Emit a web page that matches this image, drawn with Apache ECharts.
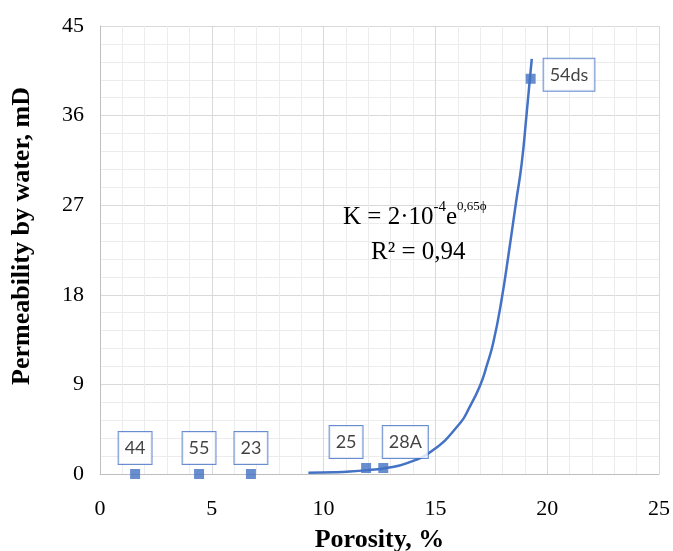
<!DOCTYPE html>
<html><head><meta charset="utf-8">
<script src="https://cdn.jsdelivr.net/npm/echarts@6/dist/echarts.min.js"></script>
<style>html,body{margin:0;padding:0;background:#fff}#c{width:673px;height:551px}</style>
</head><body><div id="c"></div>
<script>
var sampleNames = ['44', '55', '23', '25', '28A', '54ds'];
var porosity = [1.57, 4.43, 6.75, 11.9, 12.67, 19.26];
var permeability = [0.0, 0.0, 0.0, 0.6, 0.6, 39.7];
var trendX = [9.32, 10.5, 11.18, 12.0, 12.8, 13.7, 14.9, 16.1, 16.5, 17.0, 17.3, 17.59, 17.96, 18.3, 18.6, 18.86, 19.08, 19.31];
var trendY = [0.13, 0.18, 0.25, 0.4, 0.6, 1.07, 2.4, 5.1, 6.6, 8.9, 10.9, 13.2, 17.5, 22.5, 27.2, 31.2, 36.2, 41.7];
var xTicks = [0, 5, 10, 15, 20, 25];
var yTicks = [0, 9, 18, 27, 36, 45];

var blue = '#4472c4';
var labelOffsets = {'25': [-20, 0], '28A': [22, 0]};
var pts = sampleNames.map(function (n, i) {
  var d = {name: n, value: [porosity[i], permeability[i]]};
  if (n === '54ds') d.label = {position: 'right', distance: 8, offset: [0, -4]};
  if (labelOffsets[n]) d.label = {offset: labelOffsets[n]};
  return d;
});
var trend = trendX.map(function (x, i) { return [x, trendY[i]]; });

var chart = echarts.init(document.getElementById('c'));
chart.setOption({
  animation: false,
  grid: {left: 100, right: 14, top: 26, bottom: 77, outerBoundsMode: 'none', containLabel: false},
  xAxis: {
    type: 'value', min: xTicks[0], max: xTicks[xTicks.length - 1], interval: 5,
    name: 'Porosity, %', nameLocation: 'middle', nameGap: 53,
    nameTextStyle: {fontFamily: 'Liberation Serif', fontWeight: 'bold', fontSize: 26, color: '#000'},
    axisLine: {show: true, lineStyle: {color: '#bfbfbf', width: 1}},
    axisTick: {show: false},
    axisLabel: {fontFamily: 'Liberation Serif', fontSize: 22, color: '#000', margin: 24},
    splitLine: {show: true, lineStyle: {color: '#d9d9d9', width: 1}},
    minorTick: {show: false, splitNumber: 5},
    minorSplitLine: {show: true, lineStyle: {color: '#ececec', width: 1}}
  },
  yAxis: {
    type: 'value', min: yTicks[0], max: yTicks[yTicks.length - 1], interval: 9,
    axisLine: {show: true, lineStyle: {color: '#bfbfbf', width: 1}},
    axisTick: {show: false},
    axisLabel: {fontFamily: 'Liberation Serif', fontSize: 22, color: '#000', margin: 16},
    splitLine: {show: true, lineStyle: {color: '#d9d9d9', width: 1}},
    minorTick: {show: false, splitNumber: 5},
    minorSplitLine: {show: true, lineStyle: {color: '#ececec', width: 1}}
  },
  series: [
    {
      type: 'line', data: trend, smooth: 0.5, showSymbol: false, symbol: 'none',
      lineStyle: {color: blue, width: 2.5}, z: 2
    },
    {
      type: 'scatter', data: pts, symbol: 'rect', symbolSize: 10,
      itemStyle: {color: blue}, z: 3,
      label: {
        show: true, position: 'top', distance: 5, formatter: '{b}',
        fontFamily: 'Lato', fontSize: 18, lineHeight: 18, color: '#111',
        backgroundColor: '#fff', borderColor: blue, borderWidth: 1,
        padding: [7, 6, 7, 6]
      }
    }
  ],
  graphic: [
    {
      type: 'text', x: 22, y: 236, rotation: Math.PI / 2, z: 10,
      style: {
        text: 'Permeability by water, mD', align: 'center', verticalAlign: 'middle',
        fontFamily: 'Liberation Serif', fontWeight: 'bold', fontSize: 26, fill: '#000'
      }
    },
    {
      type: 'text', left: 343, top: 200, z: 10,
      style: {
        text: '{m|K = 2·10}{a|-4}{m|e}{s|0,65ϕ}',
        rich: {
          m: {fontFamily: 'Liberation Serif', fontSize: 25, fill: '#000', verticalAlign: 'bottom', lineHeight: 30},
          a: {fontFamily: 'Liberation Serif', fontSize: 15, fill: '#000', verticalAlign: 'top', lineHeight: 30, padding: [0, 0, 14, 0]},
          s: {fontFamily: 'Liberation Serif', fontSize: 13, fill: '#000', verticalAlign: 'top', lineHeight: 30, padding: [0, 0, 14, 0]}
        }
      }
    },
    {
      type: 'text', left: 371, top: 240, z: 10,
      style: {text: 'R² = 0,94', fontFamily: 'Liberation Serif', fontSize: 25, fill: '#000'}
    }
  ]
});
</script></body></html>
